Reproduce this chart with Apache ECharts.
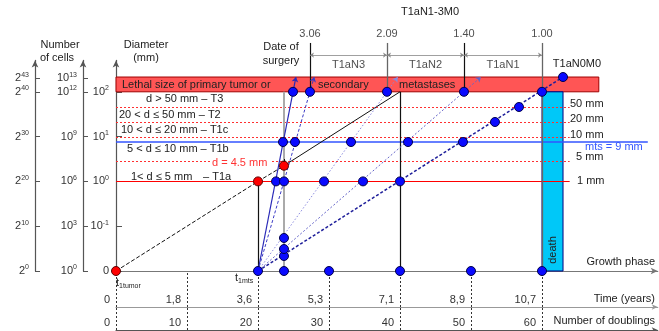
<!DOCTYPE html>
<html><head><meta charset="utf-8">
<script src="https://cdn.jsdelivr.net/npm/echarts@6/dist/echarts.min.js"></script>
<style>html,body{margin:0;padding:0;background:#fff}#c{width:659px;height:331px}</style>
</head><body><div id="c"></div>
<script>
// ---------------- data (x = number of doublings, y = log2 of cell count) ----------------
const doublingTicks = [0, 10, 20, 30, 40, 50, 60];
const timeLabels = ['0', '1,8', '3,6', '5,3', '7,1', '8,9', '10,7'];
const doublingLabels = ['0', '10', '20', '30', '40', '50', '60'];
const cellTicks = [0, 10, 20, 30, 40, 43];
const cellPow2Exp = ['0', '10', '20', '30', '40', '43'];
const cellPow10Exp = ['0', '3', '6', '9', '12', '13'];
const diameterTicks = [0, 10, 20, 30, 40];
const diameterExp = [null, '-1', '0', '1', '2'];

const sizeClassNames = ['1 mm', '5 mm', '10 mm', '20 mm', '50 mm'];
const sizeClassLevels = [20, 24.55, 29.91, 33.26, 36.61];
const sizeClassEndX = 63.9;
const mtsLevel = 28.79;
const mtsEndX = 74.9;
const lethalBand = [0, 68.0, 40, 43.3];      // x1, x2, y1, y2
const deathBar = [60, 62.96, 0, 40];         // x1, x2, y1, y2

const tumorPath = [[0, 0], [20, 20], [23.66, 23.5], [40, 40]];
const surgeryX = 23.66;
const detectX = 20;
const lethalTumorX = 40;
const mtsStart = [20, 0];
const mtsLethalX = [24.93, 27.32, 38.17, 49.01, 60];
const mtsTipX = [25.34, 27.92, 39.67, 51.4, 62.96];
const mtsTipY = 43.3;
const ratioLabels = ['', '3.06', '2.09', '1.40', '1.00'];
const stageLabels = ['T1aN3', 'T1aN2', 'T1aN1'];

const blueDots = [
  [20, 0], [23.66, 0], [30, 0], [40, 0], [50, 0], [60, 0],
  [23.66, 3.35], [23.66, 4.91], [23.66, 7.37],
  [22.54, 20], [23.66, 20], [29.3, 20], [34.79, 20], [40, 20],
  [23.52, 28.79], [25.21, 28.79], [33.1, 28.79], [41.13, 28.79], [48.87, 28.79],
  [53.38, 33.26], [56.76, 36.61],
  [24.93, 40], [27.32, 40], [38.17, 40], [49.01, 40], [60, 40], [62.96, 43.3]
];
const redDots = [[0, 0], [20, 20], [23.66, 23.5]];

// ---------------- drawing ----------------
const FONT = 'Liberation Sans, Arial, sans-serif';
const X_MAX = 76.3, Y_MAX = 47;
const chart = echarts.init(document.getElementById('c'), null, {renderer: 'canvas'});

const seg = (a, b) => ({coords: [a, b]});
function lines(data, lineStyle, extra) {
  return Object.assign({
    type: 'lines', coordinateSystem: 'cartesian2d', data,
    lineStyle: Object.assign({opacity: 1, curveness: 0}, lineStyle),
    symbol: ['none', 'none'], symbolSize: 6, clip: false, silent: true,
    animation: false, z: 3
  }, extra || {});
}
function rectSeries(rect, fill, stroke, z) {
  return {
    type: 'custom', clip: false, silent: true, animation: false, z,
    data: [rect],
    renderItem: (p, api) => {
      const a = api.coord([api.value(0), api.value(3)]);
      const b = api.coord([api.value(1), api.value(2)]);
      return {type: 'rect', shape: {x: a[0], y: a[1], width: b[0] - a[0], height: b[1] - a[1]},
        style: {fill, stroke, lineWidth: 1}};
    }
  };
}
const sup = {
  b: {fontSize: 11, color: '#333', fontFamily: FONT, lineHeight: 14},
  s: {fontSize: 7, color: '#333', fontFamily: FONT, verticalAlign: 'top'}
};

const redDotted = {color: '#ff3030', width: 1, type: [2, 2]};
const thresholdLines = sizeClassLevels.map((lv, i) => seg([0, lv], [sizeClassEndX, lv]));

const mtsStyles = [
  {color: '#2a2ab8', width: 1.2, type: 'solid'},
  {color: '#3a3ac4', width: 1, type: [3, 2]},
  {color: '#8a8ade', width: 1, type: [1.5, 2]},
  {color: '#6464c8', width: 1, type: [2, 2]},
  {color: '#1e1e9a', width: 1.5, type: [3, 2]}
];

const series = [
  rectSeries(lethalBand, '#ff5555', '#a00000', 1),
  rectSeries(deathBar, '#00c8f8', '#000080', 1),
  lines(thresholdLines.slice(1), redDotted, {z: 2}),
  lines([thresholdLines[0]], {color: '#ff0000', width: 1.2}, {z: 2}),
  lines([seg([0, mtsLevel], [mtsEndX, mtsLevel])], {color: '#3355ff', width: 1.5}, {z: 2}),
  lines([seg([detectX, 0], [detectX, 20]), seg([lethalTumorX, 0], [lethalTumorX, 40]),
         seg([mtsLethalX[1], 40], [mtsLethalX[1], 50.9]), seg([mtsLethalX[3], 40], [mtsLethalX[3], 50.9])],
        {color: '#111', width: 1.2}, {z: 2}),
  lines([seg([surgeryX, 0], [surgeryX, 40])], {color: '#aaa', width: 2}, {z: 2}),
  lines([seg([mtsLethalX[2], 40], [mtsLethalX[2], 50.9]), seg([mtsLethalX[4], 0], [mtsLethalX[4], 50.9])],
        {color: '#666', width: 1.3}, {z: 2}),
  lines([seg([mtsLethalX[1], 48.2], [mtsLethalX[2], 48.2]), seg([mtsLethalX[2], 48.2], [mtsLethalX[3], 48.2]),
         seg([mtsLethalX[3], 48.2], [mtsLethalX[4], 48.2])],
        {color: '#888', width: 0.8}, {symbol: ['arrow', 'arrow'], symbolSize: 4, z: 2}),
  lines([seg(tumorPath[0], tumorPath[1]), seg(tumorPath[1], tumorPath[2])], {color: '#111', width: 1, type: [4, 2]}),
  lines([seg(tumorPath[2], tumorPath[3])], {color: '#111', width: 1}),
  lines([seg([surgeryX, 25.0], [surgeryX, 24.0])], {color: '#111', width: 1}, {symbol: ['none', 'arrow'], symbolSize: 3})
];
mtsLethalX.forEach((x, i) => {
  series.push(lines([seg(mtsStart, [mtsTipX[i], mtsTipY])], mtsStyles[i],
    {symbol: ['none', i < 4 ? 'arrow' : 'none'], symbolSize: 5}));
});
series.push({
  type: 'scatter', data: blueDots, symbolSize: 9, clip: false, silent: true, animation: false, z: 6,
  itemStyle: {color: '#0a0aff', borderColor: '#00004a', borderWidth: 1, opacity: 1}
});
series.push({
  type: 'scatter', data: redDots, symbolSize: 9, clip: false, silent: true, animation: false, z: 6,
  itemStyle: {color: '#ff0000', borderColor: '#5a0000', borderWidth: 1, opacity: 1}
});
series.push({
  type: 'scatter', clip: false, silent: true, animation: false, z: 7, symbolSize: 1,
  itemStyle: {color: 'rgba(0,0,0,0)'},
  data: ratioLabels.map((t, i) => ({value: [mtsLethalX[i], 52.8], name: t})),
  label: {show: true, position: 'inside', formatter: '{b}', color: '#222', fontSize: 11, fontFamily: FONT}
});
series.push({
  type: 'scatter', clip: false, silent: true, animation: false, z: 7, symbolSize: 1,
  itemStyle: {color: 'rgba(0,0,0,0)'},
  data: stageLabels.map((t, i) => ({value: [(mtsLethalX[i + 1] + mtsLethalX[i + 2]) / 2, 46.1], name: t})),
  label: {show: true, position: 'inside', formatter: '{b}', color: '#222', fontSize: 11, fontFamily: FONT}
});

function txt(text, x, y, align, extra) {
  return {type: 'text', x, y, silent: true, z: 100,
    style: Object.assign({text, fill: '#222', font: '11px ' + FONT, align: align || 'left', verticalAlign: 'middle',
      textAlign: align || 'left', textVerticalAlign: 'middle'}, extra || {})};
}
const subText = (t, s, x, y) => ({type: 'text', x, y, silent: true, z: 100,
  style: {text: '{t|' + t + '}{u|' + s + '}', align: 'left', verticalAlign: 'middle', textAlign: 'left', textVerticalAlign: 'middle',
    rich: {t: {fontSize: 11, fontFamily: FONT, fill: '#222', color: '#222', lineHeight: 14},
           u: {fontSize: 7, fontFamily: FONT, fill: '#222', color: '#222', verticalAlign: 'bottom'}}}});
const graphic = [
  txt('Number', 60, 45, 'center'), txt('of cells', 57, 58, 'center'),
  txt('Diameter', 146, 45, 'center'), txt('(mm)', 146, 58, 'center'),
  txt('Date of', 281, 47, 'center'), txt('surgery', 281, 61, 'center'),
  txt('T1aN1-3M0', 430, 12, 'center'),
  txt('T1aN0M0', 577, 64, 'center'),
  txt('Lethal size of primary tumor or', 122, 85),
  txt('secondary', 318, 85), txt('metastases', 399, 85),
  txt('d > 50 mm \u2013 T3', 146, 99),
  txt('20 < d \u2264 50 mm \u2013 T2', 119, 115),
  txt('10 < d \u2264 20 mm \u2013 T1c', 121, 130),
  txt('5 < d \u2264 10 mm \u2013 T1b', 127, 149),
  txt('1< d \u2264 5 mm', 131, 177), txt('\u2013 T1a', 203, 177),
  txt('d = 4.5 mm', 210, 163, 'left', {fill: '#ff3333', backgroundColor: '#fff', padding: [1, 3, 1, 2]}),
  txt(sizeClassNames[4], 570, 104), txt(sizeClassNames[3], 570, 119), txt(sizeClassNames[2], 570, 135),
  txt('mts = 9 mm', 585, 147, 'left', {fill: '#3355ff'}),
  txt(sizeClassNames[1], 576, 157), txt(sizeClassNames[0], 577, 181),
  txt('Growth phase', 655, 262, 'right'),
  txt('Time (years)', 655, 299, 'right'),
  txt('Number of doublings', 655, 321, 'right'),
  Object.assign(txt('death', 553, 250, 'center'), {rotation: Math.PI / 2}),
  subText('t', '1tumor', 116, 283),
  subText('t', '1mts', 235, 278)
];

const gridW = X_MAX * 7.1, gridH = Y_MAX * 4.48;
const arrowLine = (color) => ({show: true, onZero: false, symbol: ['none', 'arrow'], symbolSize: [5, 7], lineStyle: {color, width: 1.2}});
const yBase = (offset) => ({
  type: 'value', position: 'left', offset, min: 0, max: Y_MAX, gridIndex: 0,
  splitLine: {show: false}, axisLine: arrowLine('#555')
});
const xBottom = (offset, color, tickLen, labels) => ({
  type: 'value', min: 0, max: X_MAX, position: 'bottom', offset,
  axisLine: {show: true, onZero: false, symbol: ['none', 'arrow'], symbolSize: [4, 6], lineStyle: {color, width: 1.2}},
  axisTick: {show: true, inside: true, length: tickLen, customValues: doublingTicks, lineStyle: {color: '#333', type: [2, 2]}},
  axisLabel: {show: true, inside: true, margin: 2, customValues: doublingTicks, align: 'right', padding: [0, 6, 0, 0],
    color: '#333', fontSize: 11, fontFamily: FONT,
    formatter: v => labels[doublingTicks.indexOf(v)]},
  splitLine: {show: false}
});

const option = {
  animation: false,
  textStyle: {fontFamily: FONT},
  grid: {left: 116, top: 271 - gridH, width: gridW, height: gridH, containLabel: false},
  xAxis: [
    {type: 'value', min: 0, max: X_MAX, position: 'bottom', offset: 0,
      axisLine: arrowLine('#777'), axisTick: {show: false}, axisLabel: {show: false}, splitLine: {show: false}},
    xBottom(36, '#999', 36, timeLabels),
    xBottom(59, '#555', 23, doublingLabels)
  ],
  yAxis: [
    Object.assign(yBase(0), {
      axisTick: {show: true, inside: true, length: 6, customValues: diameterTicks, lineStyle: {color: '#555'}},
      axisLabel: {show: true, margin: 7, customValues: diameterTicks, rich: sup,
        formatter: v => { const e = diameterExp[diameterTicks.indexOf(v)]; return e === null ? '{b|0}' : '{b|10}{s|' + e + '}'; }}
    }),
    Object.assign(yBase(33), {
      axisTick: {show: true, inside: true, length: 5, customValues: cellTicks, lineStyle: {color: '#555'}},
      axisLabel: {show: true, margin: 6, customValues: cellTicks, rich: sup,
        formatter: v => '{b|10}{s|' + cellPow10Exp[cellTicks.indexOf(v)] + '}'}
    }),
    Object.assign(yBase(81), {
      axisTick: {show: true, inside: true, length: 5, customValues: cellTicks, lineStyle: {color: '#555'}},
      axisLabel: {show: true, margin: 6, customValues: cellTicks, rich: sup,
        formatter: v => '{b|2}{s|' + cellPow2Exp[cellTicks.indexOf(v)] + '}'}
    })
  ],
  series,
  graphic
};
chart.setOption(option);
</script></body></html>
